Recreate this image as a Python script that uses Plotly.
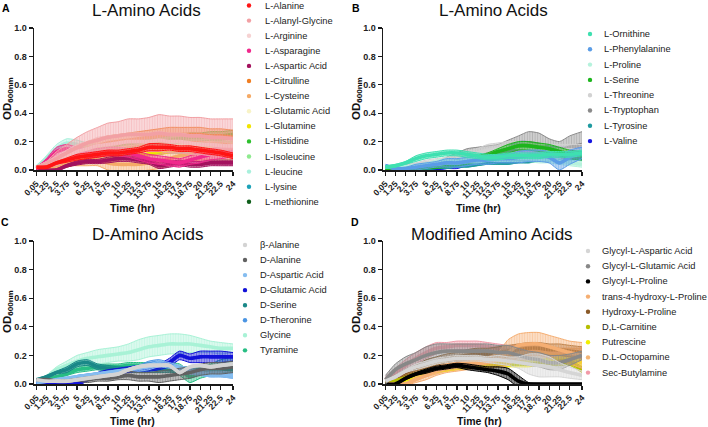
import plotly.graph_objects as go

# ---------------- data ----------------
T = [0.05, 1.25, 2.5, 3.75, 5, 6.25, 7.5, 8.75, 10, 11.25, 12.5, 13.75, 15, 16.25, 17.5, 18.75, 20, 21.25, 22.5, 24]
TICK_LABELS = ["0.05", "1.25", "2.5", "3.75", "5", "6.25", "7.5", "8.75", "10", "11.25", "12.5",
               "13.75", "15", "16.25", "17.5", "18.75", "20", "21.25", "22.5", "24"]
Y_TICKS = [0.0, 0.2, 0.4, 0.6, 0.8, 1.0]

# Panel A: L-Amino Acids
a_names = ["L-Alanine", "L-Alanyl-Glycine", "L-Arginine", "L-Asparagine", "L-Aspartic Acid", "L-Citrulline",
           "L-Cysteine", "L-Glutamic Acid", "L-Glutamine", "L-Histidine", "L-Isoleucine", "L-leucine",
           "L-lysine", "L-methionine"]
a_colors = ["#FF1414", "#F2A0A4", "#F6D2D2", "#F0288C", "#A3125E", "#F07E22", "#F5AA66", "#F8F3C6",
            "#F2E400", "#2DC02D", "#8EEA8E", "#A8F0DC", "#1CA2B8", "#0E5E1A"]
a_mean = [
    [0.02, 0.02, 0.05, 0.07, 0.09, 0.10, 0.11, 0.12, 0.12, 0.13, 0.14, 0.16, 0.16, 0.16, 0.15, 0.15, 0.14, 0.13, 0.12, 0.10],
    [0.02, 0.04, 0.08, 0.12, 0.16, 0.19, 0.21, 0.23, 0.24, 0.25, 0.25, 0.25, 0.26, 0.25, 0.25, 0.24, 0.24, 0.23, 0.23, 0.22],
    [0.02, 0.04, 0.07, 0.10, 0.13, 0.15, 0.17, 0.18, 0.19, 0.20, 0.20, 0.20, 0.21, 0.20, 0.20, 0.19, 0.18, 0.18, 0.17, 0.17],
    [0.01, 0.06, 0.13, 0.15, 0.13, 0.12, 0.12, 0.13, 0.13, 0.12, 0.10, 0.08, 0.07, 0.06, 0.05, 0.07, 0.09, 0.11, 0.12, 0.13],
    [0.01, 0.00, 0.00, 0.03, 0.05, 0.06, 0.06, 0.07, 0.08, 0.08, 0.07, 0.06, 0.03, 0.04, 0.05, 0.04, 0.04, 0.05, 0.05, 0.05],
    [0.02, 0.03, 0.06, 0.09, 0.12, 0.15, 0.17, 0.19, 0.20, 0.21, 0.22, 0.23, 0.24, 0.25, 0.25, 0.25, 0.25, 0.24, 0.24, 0.23],
    [0.01, 0.02, 0.03, 0.05, 0.06, 0.07, 0.07, 0.05, 0.04, 0.04, 0.04, 0.05, 0.06, 0.08, 0.10, 0.11, 0.12, 0.12, 0.12, 0.12],
    [0.01, 0.02, 0.04, 0.06, 0.08, 0.10, 0.11, 0.12, 0.13, 0.14, 0.15, 0.16, 0.16, 0.17, 0.17, 0.17, 0.17, 0.17, 0.16, 0.16],
    [0.01, 0.01, 0.02, 0.04, 0.06, 0.07, 0.08, 0.08, 0.09, 0.10, 0.11, 0.12, 0.13, 0.14, 0.15, 0.15, 0.15, 0.15, 0.15, 0.14],
    [0.01, 0.01, 0.03, 0.05, 0.07, 0.09, 0.10, 0.12, 0.14, 0.16, 0.18, 0.19, 0.20, 0.21, 0.22, 0.23, 0.23, 0.24, 0.24, 0.25],
    [0.01, 0.03, 0.06, 0.09, 0.11, 0.13, 0.14, 0.15, 0.16, 0.17, 0.18, 0.19, 0.20, 0.20, 0.20, 0.20, 0.20, 0.19, 0.19, 0.19],
    [0.02, 0.08, 0.15, 0.19, 0.18, 0.16, 0.15, 0.15, 0.15, 0.15, 0.15, 0.15, 0.15, 0.15, 0.15, 0.15, 0.14, 0.14, 0.14, 0.14],
    [0.01, 0.02, 0.04, 0.06, 0.08, 0.10, 0.11, 0.12, 0.13, 0.13, 0.14, 0.14, 0.15, 0.15, 0.15, 0.15, 0.16, 0.16, 0.16, 0.16],
    [0.01, 0.02, 0.03, 0.05, 0.07, 0.08, 0.09, 0.10, 0.11, 0.12, 0.12, 0.13, 0.13, 0.14, 0.14, 0.14, 0.14, 0.14, 0.14, 0.14],
]
a_sd = [
    [0.005, 0.01, 0.01, 0.015, 0.02, 0.02, 0.02, 0.02, 0.02, 0.02, 0.02, 0.025, 0.025, 0.02, 0.02, 0.02, 0.02, 0.02, 0.02, 0.02],
    [0.005, 0.02, 0.05, 0.06, 0.07, 0.08, 0.09, 0.10, 0.10, 0.11, 0.11, 0.12, 0.13, 0.13, 0.13, 0.13, 0.13, 0.13, 0.13, 0.14],
    [0.005, 0.02, 0.03, 0.04, 0.05, 0.05, 0.06, 0.06, 0.06, 0.06, 0.06, 0.06, 0.06, 0.06, 0.06, 0.06, 0.06, 0.06, 0.06, 0.06],
    [0.005, 0.02, 0.03, 0.03, 0.03, 0.03, 0.03, 0.03, 0.03, 0.03, 0.03, 0.03, 0.03, 0.03, 0.03, 0.03, 0.04, 0.04, 0.04, 0.04],
    [0.005, 0.005, 0.01, 0.01, 0.015, 0.015, 0.015, 0.02, 0.02, 0.02, 0.02, 0.02, 0.02, 0.02, 0.02, 0.02, 0.02, 0.02, 0.02, 0.02],
    [0.005, 0.01, 0.02, 0.03, 0.04, 0.05, 0.05, 0.05, 0.05, 0.05, 0.05, 0.05, 0.05, 0.05, 0.05, 0.05, 0.05, 0.05, 0.05, 0.05],
    [0.005, 0.01, 0.02, 0.02, 0.03, 0.04, 0.04, 0.05, 0.05, 0.05, 0.05, 0.05, 0.05, 0.05, 0.05, 0.05, 0.05, 0.05, 0.05, 0.05],
    [0.005, 0.01, 0.02, 0.02, 0.03, 0.03, 0.03, 0.03, 0.03, 0.03, 0.03, 0.03, 0.03, 0.03, 0.03, 0.03, 0.03, 0.03, 0.03, 0.03],
    [0.005, 0.01, 0.01, 0.02, 0.02, 0.02, 0.02, 0.02, 0.02, 0.02, 0.02, 0.02, 0.02, 0.02, 0.02, 0.02, 0.02, 0.02, 0.02, 0.02],
    [0.005, 0.01, 0.01, 0.02, 0.02, 0.03, 0.03, 0.03, 0.03, 0.03, 0.03, 0.03, 0.03, 0.03, 0.03, 0.03, 0.03, 0.03, 0.03, 0.03],
    [0.005, 0.01, 0.02, 0.03, 0.03, 0.03, 0.03, 0.03, 0.03, 0.03, 0.03, 0.03, 0.03, 0.03, 0.03, 0.03, 0.03, 0.03, 0.03, 0.03],
    [0.005, 0.02, 0.03, 0.03, 0.03, 0.03, 0.03, 0.03, 0.03, 0.03, 0.03, 0.03, 0.03, 0.03, 0.03, 0.03, 0.03, 0.03, 0.03, 0.03],
    [0.005, 0.01, 0.01, 0.02, 0.02, 0.02, 0.02, 0.02, 0.02, 0.02, 0.02, 0.02, 0.02, 0.02, 0.02, 0.02, 0.02, 0.02, 0.02, 0.02],
    [0.005, 0.01, 0.01, 0.02, 0.02, 0.02, 0.02, 0.02, 0.02, 0.02, 0.02, 0.02, 0.02, 0.02, 0.02, 0.02, 0.02, 0.02, 0.02, 0.02],
]

# Panel B: L-Amino Acids (cont.)
b_names = ["L-Ornithine", "L-Phenylalanine", "L-Proline", "L-Serine", "L-Threonine", "L-Tryptophan",
           "L-Tyrosine", "L-Valine"]
b_colors = ["#3EE0B0", "#5A9CE6", "#B5F2DC", "#1DB51D", "#D2D2D2", "#8A8A8A", "#1E9AA0", "#1515E0"]
b_mean = [
    [0.02, 0.03, 0.05, 0.08, 0.10, 0.11, 0.12, 0.12, 0.11, 0.10, 0.09, 0.09, 0.10, 0.10, 0.10, 0.10, 0.11, 0.11, 0.11, 0.12],
    [0.03, 0.01, 0.01, 0.02, 0.03, 0.04, 0.05, 0.05, 0.06, 0.07, 0.07, 0.08, 0.08, 0.09, 0.10, 0.10, 0.09, 0.05, 0.09, 0.12],
    [0.02, 0.02, 0.02, 0.03, 0.04, 0.05, 0.06, 0.06, 0.07, 0.07, 0.08, 0.08, 0.08, 0.08, 0.08, 0.07, 0.07, 0.06, 0.05, 0.04],
    [0.01, 0.01, 0.01, 0.01, 0.02, 0.03, 0.04, 0.05, 0.06, 0.08, 0.10, 0.13, 0.15, 0.17, 0.17, 0.16, 0.15, 0.13, 0.11, 0.10],
    [0.02, 0.02, 0.03, 0.04, 0.05, 0.06, 0.07, 0.08, 0.10, 0.12, 0.14, 0.15, 0.16, 0.16, 0.15, 0.14, 0.14, 0.14, 0.14, 0.14],
    [0.01, 0.01, 0.01, 0.02, 0.03, 0.04, 0.06, 0.08, 0.10, 0.11, 0.12, 0.13, 0.15, 0.17, 0.19, 0.18, 0.15, 0.14, 0.16, 0.18],
    [0.02, 0.02, 0.01, 0.01, 0.01, 0.02, 0.02, 0.03, 0.03, 0.04, 0.05, 0.05, 0.05, 0.06, 0.06, 0.07, 0.07, 0.07, 0.08, 0.08],
    [0.01, 0.00, 0.00, 0.00, 0.00, 0.01, 0.02, 0.03, 0.05, 0.07, 0.09, 0.11, 0.13, 0.15, 0.15, 0.14, 0.13, 0.12, 0.12, 0.12],
]
b_sd = [
    [0.01, 0.01, 0.01, 0.02, 0.02, 0.02, 0.02, 0.02, 0.02, 0.02, 0.02, 0.02, 0.02, 0.02, 0.02, 0.02, 0.02, 0.02, 0.02, 0.02],
    [0.01, 0.01, 0.01, 0.02, 0.02, 0.02, 0.03, 0.03, 0.03, 0.03, 0.03, 0.03, 0.03, 0.04, 0.04, 0.04, 0.04, 0.05, 0.05, 0.04],
    [0.005, 0.01, 0.01, 0.01, 0.01, 0.02, 0.02, 0.02, 0.02, 0.02, 0.02, 0.02, 0.02, 0.02, 0.02, 0.02, 0.02, 0.02, 0.02, 0.02],
    [0.005, 0.005, 0.01, 0.01, 0.01, 0.02, 0.02, 0.02, 0.02, 0.02, 0.02, 0.02, 0.03, 0.03, 0.03, 0.03, 0.03, 0.03, 0.03, 0.03],
    [0.005, 0.01, 0.01, 0.01, 0.02, 0.02, 0.02, 0.03, 0.03, 0.03, 0.04, 0.04, 0.04, 0.04, 0.04, 0.04, 0.04, 0.04, 0.04, 0.04],
    [0.005, 0.01, 0.01, 0.01, 0.02, 0.02, 0.03, 0.04, 0.05, 0.05, 0.05, 0.05, 0.06, 0.07, 0.08, 0.08, 0.07, 0.06, 0.08, 0.09],
    [0.005, 0.005, 0.005, 0.01, 0.01, 0.01, 0.01, 0.01, 0.01, 0.01, 0.01, 0.01, 0.01, 0.01, 0.01, 0.01, 0.01, 0.01, 0.01, 0.01],
    [0.005, 0.005, 0.005, 0.005, 0.01, 0.01, 0.01, 0.02, 0.02, 0.03, 0.03, 0.03, 0.04, 0.05, 0.05, 0.04, 0.04, 0.04, 0.04, 0.04],
]

# Panel C: D-Amino Acids
c_names = ["\u03b2-Alanine", "D-Alanine", "D-Aspartic Acid", "D-Glutamic Acid", "D-Serine", "D-Theronine",
           "Glycine", "Tyramine"]
c_colors = ["#D3D3D3", "#616161", "#85BDF0", "#1212D8", "#1A8888", "#4B95E3", "#A8F2D6", "#28BE84"]
c_mean = [
    [0.03, 0.02, 0.02, 0.02, 0.03, 0.04, 0.05, 0.06, 0.07, 0.10, 0.12, 0.13, 0.13, 0.13, 0.08, 0.12, 0.13, 0.12, 0.13, 0.14],
    [0.03, 0.03, 0.02, 0.02, 0.03, 0.03, 0.04, 0.04, 0.05, 0.06, 0.05, 0.05, 0.05, 0.06, 0.07, 0.08, 0.10, 0.11, 0.11, 0.12],
    [0.01, 0.02, 0.03, 0.04, 0.05, 0.06, 0.07, 0.08, 0.09, 0.10, 0.11, 0.12, 0.14, 0.13, 0.11, 0.09, 0.08, 0.07, 0.07, 0.06],
    [0.00, 0.00, 0.00, 0.00, 0.00, 0.03, 0.06, 0.08, 0.09, 0.10, 0.11, 0.11, 0.12, 0.15, 0.20, 0.18, 0.19, 0.19, 0.19, 0.19],
    [0.03, 0.05, 0.08, 0.10, 0.14, 0.15, 0.12, 0.11, 0.10, 0.10, 0.10, 0.10, 0.10, 0.10, 0.10, 0.10, 0.10, 0.10, 0.10, 0.10],
    [0.01, 0.01, 0.02, 0.03, 0.05, 0.06, 0.07, 0.09, 0.10, 0.11, 0.12, 0.14, 0.15, 0.13, 0.10, 0.09, 0.08, 0.07, 0.07, 0.06],
    [0.02, 0.05, 0.10, 0.13, 0.16, 0.18, 0.19, 0.20, 0.21, 0.22, 0.24, 0.26, 0.27, 0.28, 0.28, 0.28, 0.27, 0.26, 0.25, 0.25],
    [0.02, 0.03, 0.05, 0.07, 0.10, 0.11, 0.12, 0.12, 0.12, 0.13, 0.13, 0.13, 0.13, 0.12, 0.10, 0.05, 0.08, 0.10, 0.13, 0.15],
]
c_sd = [
    [0.005, 0.005, 0.01, 0.01, 0.01, 0.01, 0.01, 0.01, 0.01, 0.01, 0.01, 0.01, 0.01, 0.01, 0.01, 0.01, 0.01, 0.01, 0.01, 0.01],
    [0.005, 0.01, 0.01, 0.01, 0.01, 0.02, 0.02, 0.02, 0.02, 0.03, 0.03, 0.03, 0.04, 0.04, 0.04, 0.04, 0.04, 0.04, 0.04, 0.04],
    [0.005, 0.01, 0.01, 0.01, 0.01, 0.01, 0.01, 0.01, 0.01, 0.01, 0.02, 0.02, 0.02, 0.02, 0.02, 0.02, 0.02, 0.02, 0.02, 0.02],
    [0.005, 0.005, 0.005, 0.005, 0.01, 0.01, 0.02, 0.02, 0.02, 0.02, 0.02, 0.02, 0.02, 0.03, 0.03, 0.03, 0.04, 0.04, 0.04, 0.03],
    [0.005, 0.01, 0.01, 0.02, 0.02, 0.02, 0.02, 0.02, 0.02, 0.02, 0.02, 0.02, 0.02, 0.02, 0.02, 0.02, 0.02, 0.02, 0.02, 0.02],
    [0.005, 0.01, 0.01, 0.01, 0.01, 0.01, 0.01, 0.01, 0.01, 0.01, 0.01, 0.02, 0.02, 0.02, 0.02, 0.02, 0.02, 0.02, 0.02, 0.02],
    [0.005, 0.01, 0.02, 0.03, 0.04, 0.04, 0.05, 0.05, 0.05, 0.06, 0.07, 0.07, 0.07, 0.07, 0.07, 0.06, 0.05, 0.04, 0.04, 0.03],
    [0.005, 0.01, 0.01, 0.01, 0.02, 0.02, 0.02, 0.02, 0.02, 0.02, 0.02, 0.02, 0.02, 0.03, 0.04, 0.04, 0.04, 0.04, 0.04, 0.04],
]

# Panel D: Modified Amino Acids
d_names = ["Glycyl-L-Aspartic Acid", "Glycyl-L-Glutamic Acid", "Glycyl-L-Proline", "trans-4-hydroxy-L-Proline",
           "Hydroxy-L-Proline", "D,L-Carnitine", "Putrescine", "D.L-Octopamine", "Sec-Butylamine"]
d_colors = ["#D5D5D5", "#888888", "#000000", "#F5AE72", "#8A5A28", "#B5BE00", "#F2EE00", "#F4B575", "#F29AA8"]
d_mean = [
    [0.02, 0.05, 0.09, 0.12, 0.14, 0.16, 0.17, 0.18, 0.18, 0.18, 0.17, 0.17, 0.16, 0.15, 0.14, 0.13, 0.12, 0.10, 0.08, 0.06],
    [0.03, 0.10, 0.14, 0.17, 0.20, 0.22, 0.23, 0.23, 0.23, 0.23, 0.23, 0.22, 0.22, 0.20, 0.18, 0.17, 0.15, 0.15, 0.17, 0.20],
    [0.00, 0.00, 0.04, 0.07, 0.09, 0.11, 0.12, 0.13, 0.12, 0.11, 0.10, 0.09, 0.07, 0.02, 0.00, 0.00, 0.00, 0.00, 0.00, 0.00],
    [0.00, 0.00, 0.00, 0.03, 0.06, 0.09, 0.11, 0.12, 0.13, 0.14, 0.15, 0.17, 0.22, 0.27, 0.28, 0.28, 0.26, 0.24, 0.22, 0.20],
    [0.02, 0.05, 0.08, 0.11, 0.14, 0.16, 0.18, 0.19, 0.20, 0.21, 0.21, 0.22, 0.23, 0.24, 0.25, 0.25, 0.24, 0.24, 0.23, 0.22],
    [0.01, 0.02, 0.05, 0.07, 0.09, 0.10, 0.11, 0.12, 0.12, 0.13, 0.13, 0.14, 0.14, 0.14, 0.14, 0.14, 0.14, 0.15, 0.15, 0.10],
    [0.00, 0.01, 0.03, 0.05, 0.07, 0.09, 0.10, 0.11, 0.12, 0.12, 0.13, 0.13, 0.13, 0.14, 0.14, 0.15, 0.16, 0.17, 0.17, 0.15],
    [0.01, 0.02, 0.05, 0.07, 0.09, 0.11, 0.13, 0.14, 0.15, 0.16, 0.17, 0.18, 0.20, 0.21, 0.22, 0.22, 0.21, 0.20, 0.20, 0.20],
    [0.03, 0.08, 0.13, 0.18, 0.22, 0.25, 0.26, 0.27, 0.27, 0.27, 0.26, 0.25, 0.24, 0.24, 0.23, 0.23, 0.22, 0.22, 0.22, 0.22],
]
d_sd = [
    [0.005, 0.01, 0.01, 0.02, 0.02, 0.02, 0.02, 0.02, 0.02, 0.02, 0.02, 0.03, 0.03, 0.04, 0.07, 0.08, 0.07, 0.05, 0.04, 0.03],
    [0.03, 0.04, 0.05, 0.05, 0.06, 0.06, 0.05, 0.05, 0.05, 0.05, 0.05, 0.05, 0.05, 0.05, 0.05, 0.05, 0.05, 0.05, 0.04, 0.03],
    [0.005, 0.005, 0.01, 0.01, 0.015, 0.015, 0.015, 0.015, 0.02, 0.02, 0.02, 0.03, 0.04, 0.04, 0.01, 0.005, 0.005, 0.005, 0.005, 0.005],
    [0.005, 0.01, 0.01, 0.02, 0.03, 0.03, 0.03, 0.03, 0.03, 0.03, 0.04, 0.05, 0.09, 0.08, 0.08, 0.08, 0.08, 0.08, 0.08, 0.09],
    [0.005, 0.01, 0.02, 0.02, 0.03, 0.03, 0.03, 0.03, 0.04, 0.04, 0.04, 0.04, 0.04, 0.04, 0.04, 0.04, 0.04, 0.04, 0.04, 0.04],
    [0.005, 0.01, 0.01, 0.01, 0.01, 0.01, 0.01, 0.01, 0.01, 0.01, 0.01, 0.01, 0.01, 0.01, 0.01, 0.01, 0.01, 0.02, 0.02, 0.02],
    [0.005, 0.01, 0.01, 0.01, 0.01, 0.01, 0.01, 0.01, 0.01, 0.01, 0.01, 0.01, 0.01, 0.02, 0.02, 0.02, 0.02, 0.02, 0.02, 0.02],
    [0.005, 0.02, 0.03, 0.03, 0.04, 0.04, 0.04, 0.04, 0.04, 0.04, 0.04, 0.04, 0.04, 0.05, 0.05, 0.05, 0.05, 0.05, 0.05, 0.05],
    [0.02, 0.03, 0.04, 0.04, 0.04, 0.04, 0.03, 0.03, 0.03, 0.03, 0.03, 0.03, 0.03, 0.03, 0.03, 0.03, 0.03, 0.03, 0.03, 0.03],
]

# ---------------- layout helpers ----------------
W, H = 708, 427
FONT = "Liberation Sans, Arial, sans-serif"
AXCOL = "#1a1a1a"


def px(x):
    return x / W


def py(y):
    return 1 - y / H


def rgba(h, a):
    h = h.lstrip("#")
    return "rgba(%d,%d,%d,%.3f)" % (int(h[0:2], 16), int(h[2:4], 16), int(h[4:6], 16), a)


panels = [
    dict(letter="A", title="L-Amino Acids", names=a_names, colors=a_colors, mean=a_mean, sd=a_sd,
         box=(34, 233, 28, 170), tpos=(146, 10), lpos=(6, 8), leg=(249, 263, 5.5, 15.1),
         xt=(132, 208), yt=(8, 99)),
    dict(letter="B", title="L-Amino Acids", names=b_names, colors=b_colors, mean=b_mean, sd=b_sd,
         box=(383, 582, 28, 170), tpos=(494, 10), lpos=(356, 8), leg=(590, 602, 34, 15.3),
         xt=(478, 208), yt=(357, 99)),
    dict(letter="C", title="D-Amino Acids", names=c_names, colors=c_colors, mean=c_mean, sd=c_sd,
         box=(34, 233, 241, 384), tpos=(147, 234), lpos=(5, 222), leg=(245, 258, 245, 15.05),
         xt=(132, 421), yt=(8, 312)),
    dict(letter="D", title="Modified Amino Acids", names=d_names, colors=d_colors, mean=d_mean, sd=d_sd,
         box=(383, 582, 241, 384), tpos=(492, 234), lpos=(355, 222), leg=(588, 599.5, 251, 15.2),
         xt=(479, 421), yt=(357, 312)),
]

fig = go.Figure()
annotations = []
shapes = []
layout_axes = {}

for i, p in enumerate(panels):
    n = i + 1
    xa = "x" if n == 1 else "x%d" % n
    ya = "y" if n == 1 else "y%d" % n
    x0, x1, ytop, ybot = p["box"]
    # draw last series first so the first series ends on top
    for name, col, m, s in reversed(list(zip(p["names"], p["colors"], p["mean"], p["sd"]))):
        upper = [a + b for a, b in zip(m, s)]
        lower = [a - b for a, b in zip(m, s)]
        fig.add_trace(go.Scatter(x=T, y=upper, xaxis=xa, yaxis=ya, mode="lines",
                                 line=dict(color=col, width=1, shape="spline", smoothing=0.6),
                                 showlegend=False, hoverinfo="skip"))
        fig.add_trace(go.Scatter(x=T, y=lower, xaxis=xa, yaxis=ya, mode="lines", fill="tonexty",
                                 fillcolor=rgba(col, 0.3),
                                 fillpattern=dict(shape="|", size=2.6, solidity=0.6, fgcolor=col,
                                                  bgcolor=rgba(col, 0.28), fillmode="overlay"),
                                 line=dict(color=col, width=1, shape="spline", smoothing=0.6),
                                 showlegend=False, hoverinfo="skip"))
        fig.add_trace(go.Scatter(x=T, y=m, xaxis=xa, yaxis=ya, mode="lines", name=name,
                                 line=dict(color=col, width=3.6, shape="spline", smoothing=0.6),
                                 showlegend=False))
    axis_common = dict(showgrid=False, zeroline=False, showline=True, linecolor=AXCOL, linewidth=1.5,
                       ticks="outside", ticklen=4, tickwidth=1.3, tickcolor=AXCOL, automargin=False,
                       tickfont=dict(family=FONT, size=8.5, color="#222", weight="bold"))
    layout_axes["xaxis" if n == 1 else "xaxis%d" % n] = dict(
        axis_common, domain=[px(x0), px(x1)], anchor=ya, range=[-0.25, 24.0],
        tickmode="array", tickvals=T, ticktext=TICK_LABELS, tickangle=-45)
    layout_axes["yaxis" if n == 1 else "yaxis%d" % n] = dict(
        axis_common, domain=[py(ybot), py(ytop)], anchor=xa, range=[0, 1.0],
        tickmode="array", tickvals=Y_TICKS, ticktext=["%.1f" % v for v in Y_TICKS],
        tickfont=dict(family=FONT, size=9, color="#222", weight="bold"))

    # title, panel letter, axis titles
    annotations.append(dict(text=p["title"], x=px(p["tpos"][0]), y=py(p["tpos"][1]), xref="paper", yref="paper",
                            xanchor="center", yanchor="middle", showarrow=False,
                            font=dict(family=FONT, size=17, color="#111")))
    annotations.append(dict(text="<b>%s</b>" % p["letter"], x=px(p["lpos"][0]), y=py(p["lpos"][1]),
                            xref="paper", yref="paper", xanchor="center", yanchor="middle", showarrow=False,
                            font=dict(family=FONT, size=10.5, color="#000")))
    annotations.append(dict(text="<b>Time (hr)</b>", x=px(p["xt"][0]), y=py(p["xt"][1]), xref="paper",
                            yref="paper", xanchor="center", yanchor="middle", showarrow=False,
                            font=dict(family=FONT, size=10.5, color="#111")))
    annotations.append(dict(text="<b>OD<sub>600nm</sub></b>", x=px(p["yt"][0]), y=py(p["yt"][1]), xref="paper",
                            yref="paper", xanchor="center", yanchor="middle", showarrow=False, textangle=-90,
                            font=dict(family=FONT, size=11.5, color="#111")))
    # legend built from names and colours
    mx, tx, ly0, dy = p["leg"]
    for k, (name, col) in enumerate(zip(p["names"], p["colors"])):
        yy = ly0 + k * dy
        annotations.append(dict(text=name, x=px(tx), y=py(yy), xref="paper", yref="paper",
                                xanchor="left", yanchor="middle", showarrow=False,
                                font=dict(family=FONT, size=9.3, color="#222")))
        shapes.append(dict(type="circle", xref="paper", yref="paper", xsizemode="pixel", ysizemode="pixel",
                           xanchor=px(mx), yanchor=py(yy), x0=-2.2, x1=2.2, y0=-2.2, y1=2.2,
                           fillcolor=col, line=dict(width=0)))

fig.update_layout(width=W, height=H, margin=dict(l=0, r=0, t=0, b=0, autoexpand=False), plot_bgcolor="white",
                  paper_bgcolor="white", showlegend=False, annotations=annotations, shapes=shapes,
                  **layout_axes)

fig.write_html("out.html", config={"displayModeBar": False, "staticPlot": True},
               post_script="document.body.style.margin='0';document.body.style.padding='0';"
                           "document.body.style.overflow='hidden';")
